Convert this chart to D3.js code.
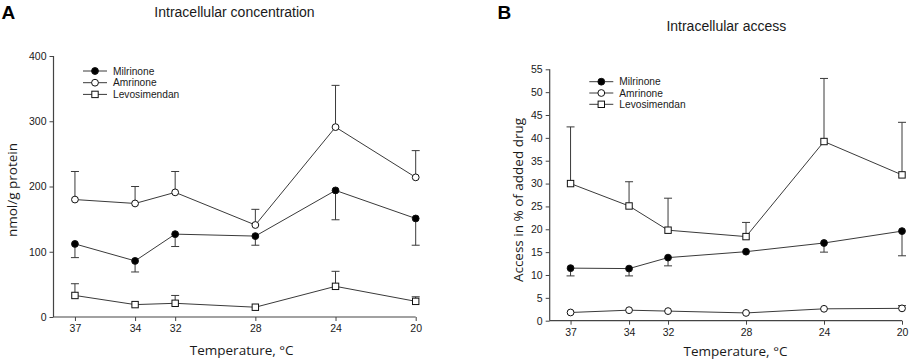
<!DOCTYPE html>
<html><head><meta charset="utf-8">
<script src="https://cdn.jsdelivr.net/npm/d3@7"></script>
<style>body{margin:0;background:#fff}svg{display:block}</style>
</head><body>
<svg id="c" width="913" height="363"></svg>
<script>
// ---- data ----
const temps = [37, 34, 32, 28, 24, 20];
const seriesNames = ["Milrinone", "Amrinone", "Levosimendan"];

// Panel A: intracellular concentration (nmol/g protein)
const concMilrinone = [112, 86, 127, 124, 194, 151];
const concMilrinoneErr = [91, 69, 108, 110, 149, 110];       // lower bar ends
const concAmrinone = [180, 174, 191, 141, 291, 214];
const concAmrinoneErr = [223, 200, 223, 165, 355, 255];      // upper bar ends
const concLevo = [33, 19, 21, 15, 47, 24];
const concLevoErr = [51, null, 33, null, 70, 31];            // upper bar ends
const concTicks = [0, 100, 200, 300, 400];

// Panel B: intracellular access (% of added drug)
const accMilrinone = [11.5, 11.4, 13.8, 15.1, 17.0, 19.6];
const accMilrinoneErr = [9.8, 9.8, 12.0, null, 15.0, 14.2];  // lower bar ends
const accAmrinone = [1.8, 2.3, 2.1, 1.7, 2.6, 2.7];
const accAmrinoneErr = [null, null, null, null, null, 3.3];  // upper bar ends
const accLevo = [30.0, 25.1, 19.8, 18.4, 39.2, 31.9];
const accLevoErr = [42.4, 30.4, 26.8, 21.5, 53.0, 43.4];     // upper bar ends
const accTicks = [0, 5, 10, 15, 20, 25, 30, 35, 40, 45, 50, 55];

// ---- drawing ----
const svg = d3.select("#c");
const LINE = "#3a3a3a", AXIS = "#444", TXT = "#1a1a1a";

function drawPanel(p) {
  const g = svg.append("g");
  const x = d3.scaleLinear().domain([38.07, 20]).range([p.x0, p.x1]);
  const y = d3.scaleLinear().domain([0, p.ymax]).range([p.yb, p.yt]);

  // axes
  const ya = g.append("g").attr("transform", `translate(${p.x0},0)`)
    .call(d3.axisLeft(y).tickValues(p.ticks).tickSize(4).tickPadding(3));
  const xa = g.append("g").attr("transform", `translate(0,${p.yb})`)
    .call(d3.axisBottom(x).tickValues(temps).tickSize(4).tickPadding(4));
  [ya, xa].forEach(a => {
    a.select(".domain").attr("stroke", AXIS).attr("stroke-width", 1.2);
    a.selectAll(".tick line").attr("stroke", AXIS).attr("stroke-width", 1);
    a.selectAll("text").attr("fill", TXT).style("font-family", "Liberation Sans, Arial, sans-serif").style("font-size", "10.5px");
  });
  ya.select(".domain").attr("d", `M0,${p.yb}V${p.yt}`);
  xa.select(".domain").attr("d", `M${p.x0},0H${p.x1}`);

  const series = [
    {vals: p.mil, err: p.milErr, shape: "circle", fill: "#000"},
    {vals: p.amr, err: p.amrErr, shape: "circle", fill: "#fff"},
    {vals: p.levo, err: p.levoErr, shape: "square", fill: "#fff"}
  ];

  // error bars
  series.forEach(s => {
    temps.forEach((t, i) => {
      const e = s.err[i];
      if (e == null) return;
      const cx = x(t);
      g.append("line").attr("x1", cx).attr("x2", cx).attr("y1", y(s.vals[i])).attr("y2", y(e))
        .attr("stroke", LINE).attr("stroke-width", 1);
      g.append("line").attr("x1", cx - 4).attr("x2", cx + 4).attr("y1", y(e)).attr("y2", y(e))
        .attr("stroke", LINE).attr("stroke-width", 1);
    });
  });
  // lines
  const lineGen = d3.line().x((d, i) => x(temps[i])).y(d => y(d));
  series.forEach(s => {
    g.append("path").attr("d", lineGen(s.vals)).attr("fill", "none").attr("stroke", LINE).attr("stroke-width", 1);
  });
  // markers
  function marker(sel, s, cx, cy) {
    if (s.shape === "circle") {
      sel.append("circle").attr("cx", cx).attr("cy", cy).attr("r", 3.4)
        .attr("fill", s.fill).attr("stroke", "#111").attr("stroke-width", 1);
    } else {
      sel.append("rect").attr("x", cx - 3.2).attr("y", cy - 3.2).attr("width", 6.4).attr("height", 6.4)
        .attr("fill", s.fill).attr("stroke", "#111").attr("stroke-width", 1);
    }
  }
  series.forEach(s => temps.forEach((t, i) => marker(g, s, x(t), y(s.vals[i]))));

  // legend
  seriesNames.forEach((name, i) => {
    const ly = p.legY + i * p.legDy;
    g.append("line").attr("x1", p.legX - 12).attr("x2", p.legX + 12).attr("y1", ly).attr("y2", ly)
      .attr("stroke", LINE).attr("stroke-width", 1);
    marker(g, series[i], p.legX, ly);
    g.append("text").attr("x", p.legX + 18).attr("y", ly).attr("dy", "0.35em")
      .attr("fill", TXT).style("font-family", "Liberation Sans, Arial, sans-serif").style("font-size", "10.2px")
      .text(name);
  });

  // titles
  g.append("text").attr("x", p.titleX).attr("y", p.titleY).attr("text-anchor", "middle").attr("dy", "0.35em")
    .attr("fill", TXT).style("font-family", "Liberation Sans, Arial, sans-serif").style("font-size", "14px").text(p.title);
  g.append("text").attr("x", p.letterX).attr("y", p.letterY)
    .attr("fill", "#000").style("font-family", "Liberation Sans, Arial, sans-serif").style("font-weight", "bold").style("font-size", "19px").text(p.letter);
  g.append("text").attr("x", p.xtX).attr("y", p.xtY).attr("text-anchor", "middle").attr("dy", "0.35em")
    .attr("fill", TXT).style("font-family", "Open Sans, sans-serif").style("font-size", "13.5px").text("Temperature, °C");
  g.append("text").attr("transform", `translate(${p.ytX},${p.ytY}) rotate(-90)`).attr("text-anchor", "middle").attr("dy", "0.35em")
    .attr("fill", TXT).style("font-family", "Open Sans, sans-serif").style("font-size", "13.5px").text(p.ytitle);
}

drawPanel({
  x0: 53.5, x1: 415.7, yb: 317, yt: 56, ymax: 400, ticks: concTicks,
  mil: concMilrinone, milErr: concMilrinoneErr, amr: concAmrinone, amrErr: concAmrinoneErr,
  levo: concLevo, levoErr: concLevoErr,
  legX: 95, legY: 71, legDy: 11.7,
  title: "Intracellular concentration", titleX: 234.5, titleY: 11.7,
  letter: "A", letterX: 1.5, letterY: 18.5,
  xtX: 241.7, xtY: 350, ytitle: "nmol/g protein", ytX: 12, ytY: 190
});
drawPanel({
  x0: 549.7, x1: 902, yb: 320.7, yt: 69.3, ymax: 55, ticks: accTicks,
  mil: accMilrinone, milErr: accMilrinoneErr, amr: accAmrinone, amrErr: accAmrinoneErr,
  levo: accLevo, levoErr: accLevoErr,
  legX: 601.3, legY: 81.7, legDy: 11.3,
  title: "Intracellular access", titleX: 726.3, titleY: 26,
  letter: "B", letterX: 497.5, letterY: 18.5,
  xtX: 735.5, xtY: 351.7, ytitle: "Access in % of added drug", ytX: 518, ytY: 200
});
</script>
</body></html>
